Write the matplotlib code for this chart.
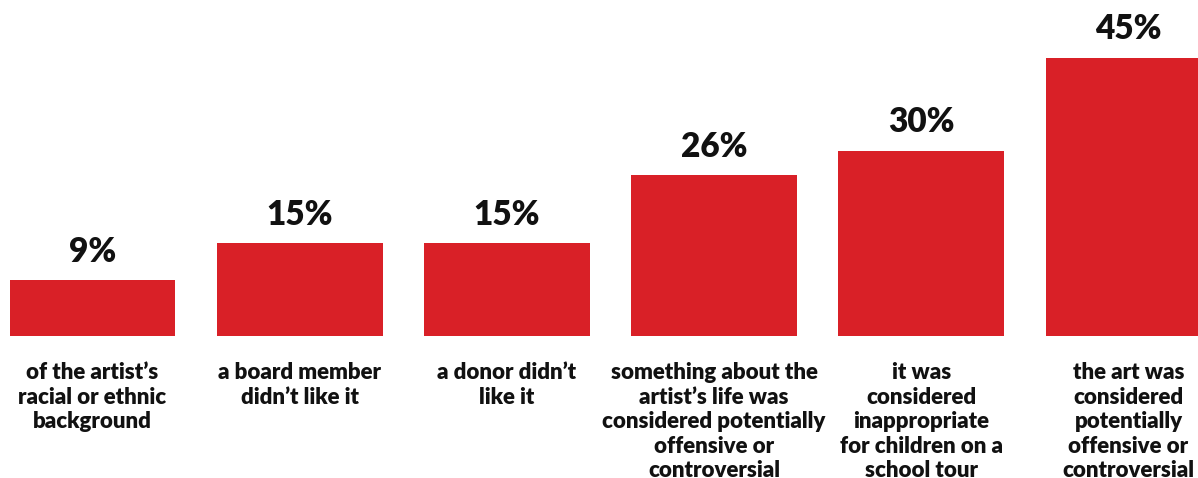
import matplotlib
matplotlib.use("Agg")
import matplotlib.pyplot as plt

# Reasons given for removing or censoring art
reasons = [
    "of the artist's\nracial or ethnic\nbackground",
    "a board member\ndidn't like it",
    "a donor didn't\nlike it",
    "something about the\nartist's life was\nconsidered potentially\noffensive or\ncontroversial",
    "it was\nconsidered\ninappropriate\nfor children on a\nschool tour",
    "the art was\nconsidered\npotentially\noffensive or\ncontroversial",
]
shares = [9, 15, 15, 26, 30, 45]
pct_labels = ["9%", "15%", "15%", "26%", "30%", "45%"]

reasons = [r.replace("'", "\u2019") for r in reasons]

RED = "#d92027"
FONT = ["Lato", "DejaVu Sans"]

W, H = 1198, 478
fig = plt.figure(figsize=(W / 100, H / 100), dpi=100)
ax = fig.add_axes([0, 0, 1, 1])
ax.set_axis_off()

x = list(range(len(shares)))
ax.bar(x, shares, width=0.8, color=RED, edgecolor="none")

# map pixels: centres 207.2 px apart, first at 92.5 px; 6.18 px per percent
px_per_unit_x = 207.2
px_per_pct = 6.18
ax.set_xlim(-92.5 / px_per_unit_x, (W - 92.5) / px_per_unit_x)
base_from_bottom = H - 336
ax.set_ylim(-base_from_bottom / px_per_pct, (H - base_from_bottom) / px_per_pct)

for xi, v, lab in zip(x, shares, pct_labels):
    ax.annotate(lab, (xi, v), xytext=(0, 9), textcoords="offset points",
                ha="center", va="bottom", fontsize=24, fontweight="heavy",
                family=FONT, color="#111111")

for xi, r in zip(x, reasons):
    ax.annotate(r, (xi, 0), xytext=(0, -19), textcoords="offset points",
                ha="center", va="top", fontsize=16, fontweight="heavy",
                family=FONT, color="#111111", linespacing=1.2)

fig.savefig("out.png", dpi=100)
